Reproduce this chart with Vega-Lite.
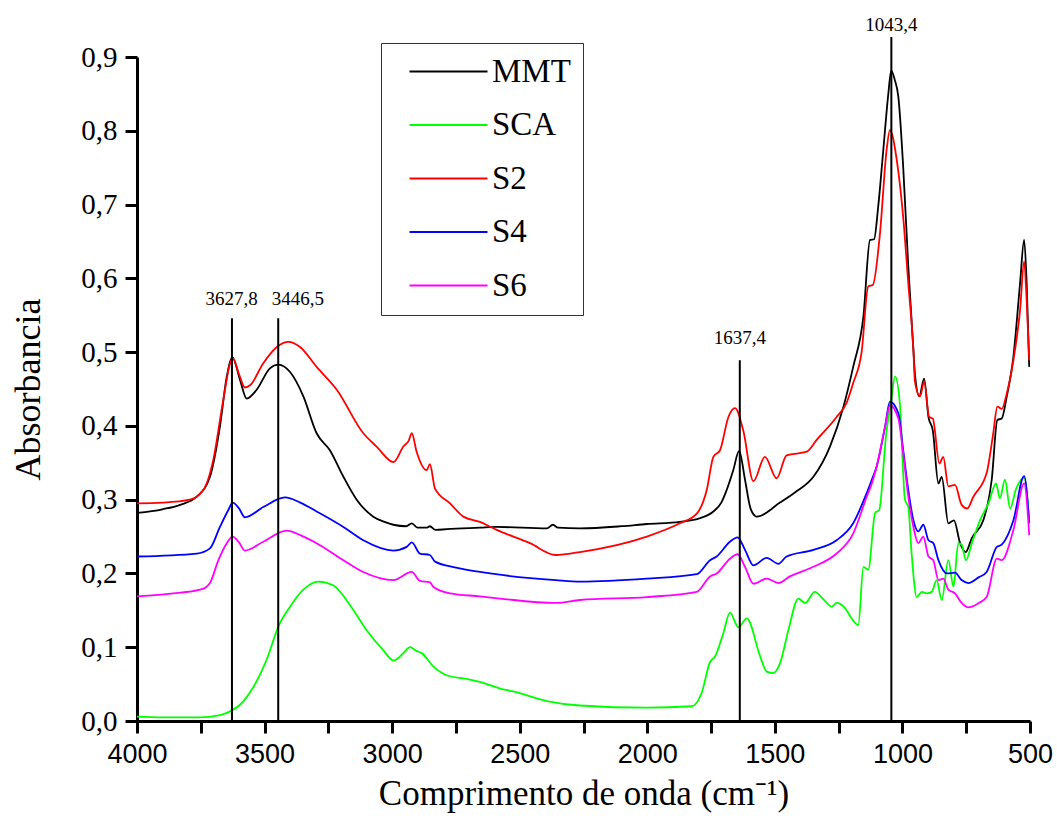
{
"$schema": "https://vega.github.io/schema/vega-lite/v6.json",
"width": 893, "height": 664,
"autosize": {"type": "none"},
"padding": {"left": 137, "top": 57, "right": 27, "bottom": 100},
"background": "white",
"config": {"view": {"stroke": null}, "font": "Liberation Serif"},
"datasets": {
"spectra": [
{"s":"MMT","x":4000,"y":0.282},{"s":"MMT","x":3900,"y":0.287},{"s":"MMT","x":3831,"y":0.293},{"s":"MMT","x":3766,"y":0.304},{"s":"MMT","x":3714,"y":0.331},{"s":"MMT","x":3675,"y":0.399},{"s":"MMT","x":3648,"y":0.467},{"s":"MMT","x":3626,"y":0.493},{"s":"MMT","x":3596,"y":0.462},{"s":"MMT","x":3570,"y":0.437},{"s":"MMT","x":3531,"y":0.449},{"s":"MMT","x":3479,"y":0.478},{"s":"MMT","x":3446,"y":0.483},{"s":"MMT","x":3400,"y":0.473},{"s":"MMT","x":3348,"y":0.44},{"s":"MMT","x":3296,"y":0.39},{"s":"MMT","x":3244,"y":0.367},{"s":"MMT","x":3191,"y":0.331},{"s":"MMT","x":3139,"y":0.3},{"s":"MMT","x":3074,"y":0.277},{"s":"MMT","x":3030,"y":0.27},{"s":"MMT","x":2995,"y":0.266},{"s":"MMT","x":2945,"y":0.264},{"s":"MMT","x":2923,"y":0.268},{"s":"MMT","x":2900,"y":0.262},{"s":"MMT","x":2865,"y":0.262},{"s":"MMT","x":2852,"y":0.264},{"s":"MMT","x":2830,"y":0.259},{"s":"MMT","x":2786,"y":0.26},{"s":"MMT","x":2656,"y":0.262},{"s":"MMT","x":2590,"y":0.263},{"s":"MMT","x":2394,"y":0.261},{"s":"MMT","x":2370,"y":0.266},{"s":"MMT","x":2350,"y":0.262},{"s":"MMT","x":2264,"y":0.261},{"s":"MMT","x":2100,"y":0.264},{"s":"MMT","x":2002,"y":0.267},{"s":"MMT","x":1872,"y":0.27},{"s":"MMT","x":1793,"y":0.275},{"s":"MMT","x":1741,"y":0.284},{"s":"MMT","x":1710,"y":0.296},{"s":"MMT","x":1689,"y":0.313},{"s":"MMT","x":1663,"y":0.34},{"s":"MMT","x":1640,"y":0.366},{"s":"MMT","x":1617,"y":0.327},{"s":"MMT","x":1597,"y":0.29},{"s":"MMT","x":1578,"y":0.278},{"s":"MMT","x":1571,"y":0.277},{"s":"MMT","x":1480,"y":0.296},{"s":"MMT","x":1420,"y":0.31},{"s":"MMT","x":1349,"y":0.331},{"s":"MMT","x":1284,"y":0.372},{"s":"MMT","x":1232,"y":0.425},{"s":"MMT","x":1193,"y":0.48},{"s":"MMT","x":1153,"y":0.548},{"s":"MMT","x":1127,"y":0.652},{"s":"MMT","x":1111,"y":0.653},{"s":"MMT","x":1095,"y":0.697},{"s":"MMT","x":1075,"y":0.774},{"s":"MMT","x":1055,"y":0.851},{"s":"MMT","x":1044,"y":0.882},{"s":"MMT","x":1030,"y":0.869},{"s":"MMT","x":1016,"y":0.846},{"s":"MMT","x":997,"y":0.751},{"s":"MMT","x":977,"y":0.616},{"s":"MMT","x":957,"y":0.503},{"s":"MMT","x":951,"y":0.471},{"s":"MMT","x":934,"y":0.44},{"s":"MMT","x":915,"y":0.464},{"s":"MMT","x":898,"y":0.412},{"s":"MMT","x":881,"y":0.394},{"s":"MMT","x":859,"y":0.322},{"s":"MMT","x":846,"y":0.331},{"s":"MMT","x":820,"y":0.268},{"s":"MMT","x":798,"y":0.272},{"s":"MMT","x":774,"y":0.241},{"s":"MMT","x":752,"y":0.229},{"s":"MMT","x":728,"y":0.248},{"s":"MMT","x":683,"y":0.272},{"s":"MMT","x":650,"y":0.327},{"s":"MMT","x":628,"y":0.408},{"s":"MMT","x":611,"y":0.41},{"s":"MMT","x":591,"y":0.44},{"s":"MMT","x":565,"y":0.494},{"s":"MMT","x":539,"y":0.593},{"s":"MMT","x":523,"y":0.652},{"s":"MMT","x":513,"y":0.593},{"s":"MMT","x":503,"y":0.48},
{"s":"SCA","x":4000,"y":0.006},{"s":"SCA","x":3900,"y":0.005},{"s":"SCA","x":3753,"y":0.005},{"s":"SCA","x":3675,"y":0.008},{"s":"SCA","x":3635,"y":0.013},{"s":"SCA","x":3596,"y":0.022},{"s":"SCA","x":3544,"y":0.046},{"s":"SCA","x":3492,"y":0.083},{"s":"SCA","x":3446,"y":0.128},{"s":"SCA","x":3400,"y":0.155},{"s":"SCA","x":3348,"y":0.178},{"s":"SCA","x":3289,"y":0.189},{"s":"SCA","x":3231,"y":0.184},{"s":"SCA","x":3165,"y":0.157},{"s":"SCA","x":3100,"y":0.123},{"s":"SCA","x":3035,"y":0.096},{"s":"SCA","x":2995,"y":0.082},{"s":"SCA","x":2956,"y":0.092},{"s":"SCA","x":2930,"y":0.1},{"s":"SCA","x":2905,"y":0.095},{"s":"SCA","x":2884,"y":0.092},{"s":"SCA","x":2839,"y":0.074},{"s":"SCA","x":2786,"y":0.062},{"s":"SCA","x":2708,"y":0.057},{"s":"SCA","x":2656,"y":0.053},{"s":"SCA","x":2577,"y":0.044},{"s":"SCA","x":2525,"y":0.04},{"s":"SCA","x":2394,"y":0.027},{"s":"SCA","x":2264,"y":0.021},{"s":"SCA","x":2002,"y":0.018},{"s":"SCA","x":1826,"y":0.02},{"s":"SCA","x":1787,"y":0.038},{"s":"SCA","x":1754,"y":0.08},{"s":"SCA","x":1735,"y":0.087},{"s":"SCA","x":1702,"y":0.119},{"s":"SCA","x":1676,"y":0.147},{"s":"SCA","x":1643,"y":0.127},{"s":"SCA","x":1610,"y":0.139},{"s":"SCA","x":1558,"y":0.088},{"s":"SCA","x":1532,"y":0.067},{"s":"SCA","x":1506,"y":0.065},{"s":"SCA","x":1480,"y":0.078},{"s":"SCA","x":1447,"y":0.123},{"s":"SCA","x":1408,"y":0.166},{"s":"SCA","x":1382,"y":0.16},{"s":"SCA","x":1343,"y":0.175},{"s":"SCA","x":1310,"y":0.165},{"s":"SCA","x":1277,"y":0.155},{"s":"SCA","x":1258,"y":0.16},{"s":"SCA","x":1225,"y":0.153},{"s":"SCA","x":1199,"y":0.139},{"s":"SCA","x":1173,"y":0.13},{"s":"SCA","x":1153,"y":0.209},{"s":"SCA","x":1134,"y":0.205},{"s":"SCA","x":1107,"y":0.282},{"s":"SCA","x":1091,"y":0.286},{"s":"SCA","x":1064,"y":0.388},{"s":"SCA","x":1044,"y":0.435},{"s":"SCA","x":1029,"y":0.467},{"s":"SCA","x":1010,"y":0.43},{"s":"SCA","x":990,"y":0.3},{"s":"SCA","x":977,"y":0.29},{"s":"SCA","x":964,"y":0.227},{"s":"SCA","x":944,"y":0.168},{"s":"SCA","x":924,"y":0.175},{"s":"SCA","x":905,"y":0.173},{"s":"SCA","x":885,"y":0.175},{"s":"SCA","x":866,"y":0.191},{"s":"SCA","x":846,"y":0.164},{"s":"SCA","x":820,"y":0.218},{"s":"SCA","x":800,"y":0.182},{"s":"SCA","x":781,"y":0.241},{"s":"SCA","x":768,"y":0.239},{"s":"SCA","x":751,"y":0.218},{"s":"SCA","x":728,"y":0.241},{"s":"SCA","x":696,"y":0.272},{"s":"SCA","x":663,"y":0.295},{"s":"SCA","x":633,"y":0.322},{"s":"SCA","x":618,"y":0.302},{"s":"SCA","x":598,"y":0.327},{"s":"SCA","x":578,"y":0.288},{"s":"SCA","x":555,"y":0.314},{"s":"SCA","x":523,"y":0.33},{"s":"SCA","x":503,"y":0.27},
{"s":"S2","x":4000,"y":0.295},{"s":"S2","x":3900,"y":0.296},{"s":"S2","x":3792,"y":0.3},{"s":"S2","x":3740,"y":0.313},{"s":"S2","x":3701,"y":0.354},{"s":"S2","x":3662,"y":0.435},{"s":"S2","x":3635,"y":0.485},{"s":"S2","x":3625,"y":0.492},{"s":"S2","x":3600,"y":0.47},{"s":"S2","x":3577,"y":0.452},{"s":"S2","x":3557,"y":0.455},{"s":"S2","x":3505,"y":0.485},{"s":"S2","x":3452,"y":0.507},{"s":"S2","x":3407,"y":0.514},{"s":"S2","x":3361,"y":0.507},{"s":"S2","x":3296,"y":0.48},{"s":"S2","x":3217,"y":0.449},{"s":"S2","x":3113,"y":0.39},{"s":"S2","x":3061,"y":0.372},{"s":"S2","x":2995,"y":0.351},{"s":"S2","x":2956,"y":0.372},{"s":"S2","x":2935,"y":0.38},{"s":"S2","x":2923,"y":0.39},{"s":"S2","x":2904,"y":0.365},{"s":"S2","x":2865,"y":0.34},{"s":"S2","x":2852,"y":0.348},{"s":"S2","x":2832,"y":0.315},{"s":"S2","x":2773,"y":0.295},{"s":"S2","x":2721,"y":0.277},{"s":"S2","x":2656,"y":0.27},{"s":"S2","x":2590,"y":0.259},{"s":"S2","x":2460,"y":0.241},{"s":"S2","x":2359,"y":0.225},{"s":"S2","x":2264,"y":0.229},{"s":"S2","x":2002,"y":0.25},{"s":"S2","x":1872,"y":0.268},{"s":"S2","x":1806,"y":0.281},{"s":"S2","x":1767,"y":0.313},{"s":"S2","x":1741,"y":0.358},{"s":"S2","x":1715,"y":0.367},{"s":"S2","x":1682,"y":0.412},{"s":"S2","x":1656,"y":0.424},{"s":"S2","x":1624,"y":0.394},{"s":"S2","x":1584,"y":0.325},{"s":"S2","x":1539,"y":0.358},{"s":"S2","x":1493,"y":0.329},{"s":"S2","x":1454,"y":0.36},{"s":"S2","x":1375,"y":0.365},{"s":"S2","x":1336,"y":0.381},{"s":"S2","x":1258,"y":0.412},{"s":"S2","x":1218,"y":0.432},{"s":"S2","x":1193,"y":0.458},{"s":"S2","x":1160,"y":0.5},{"s":"S2","x":1134,"y":0.589},{"s":"S2","x":1116,"y":0.591},{"s":"S2","x":1088,"y":0.661},{"s":"S2","x":1062,"y":0.774},{"s":"S2","x":1049,"y":0.801},{"s":"S2","x":1022,"y":0.76},{"s":"S2","x":997,"y":0.683},{"s":"S2","x":977,"y":0.593},{"s":"S2","x":957,"y":0.503},{"s":"S2","x":951,"y":0.46},{"s":"S2","x":931,"y":0.44},{"s":"S2","x":915,"y":0.46},{"s":"S2","x":895,"y":0.412},{"s":"S2","x":881,"y":0.41},{"s":"S2","x":855,"y":0.349},{"s":"S2","x":840,"y":0.358},{"s":"S2","x":820,"y":0.318},{"s":"S2","x":794,"y":0.32},{"s":"S2","x":768,"y":0.293},{"s":"S2","x":746,"y":0.288},{"s":"S2","x":722,"y":0.304},{"s":"S2","x":670,"y":0.336},{"s":"S2","x":644,"y":0.39},{"s":"S2","x":628,"y":0.426},{"s":"S2","x":611,"y":0.423},{"s":"S2","x":591,"y":0.444},{"s":"S2","x":565,"y":0.489},{"s":"S2","x":539,"y":0.557},{"s":"S2","x":523,"y":0.623},{"s":"S2","x":513,"y":0.57},{"s":"S2","x":503,"y":0.489},
{"s":"S4","x":4000,"y":0.223},{"s":"S4","x":3766,"y":0.227},{"s":"S4","x":3714,"y":0.234},{"s":"S4","x":3675,"y":0.263},{"s":"S4","x":3642,"y":0.286},{"s":"S4","x":3625,"y":0.296},{"s":"S4","x":3600,"y":0.288},{"s":"S4","x":3577,"y":0.276},{"s":"S4","x":3505,"y":0.29},{"s":"S4","x":3420,"y":0.303},{"s":"S4","x":3360,"y":0.296},{"s":"S4","x":3296,"y":0.284},{"s":"S4","x":3191,"y":0.263},{"s":"S4","x":3113,"y":0.245},{"s":"S4","x":2995,"y":0.231},{"s":"S4","x":2943,"y":0.236},{"s":"S4","x":2923,"y":0.242},{"s":"S4","x":2891,"y":0.227},{"s":"S4","x":2852,"y":0.225},{"s":"S4","x":2832,"y":0.216},{"s":"S4","x":2750,"y":0.208},{"s":"S4","x":2656,"y":0.202},{"s":"S4","x":2359,"y":0.191},{"s":"S4","x":2264,"y":0.189},{"s":"S4","x":2002,"y":0.193},{"s":"S4","x":1806,"y":0.199},{"s":"S4","x":1754,"y":0.218},{"s":"S4","x":1728,"y":0.223},{"s":"S4","x":1676,"y":0.243},{"s":"S4","x":1646,"y":0.249},{"s":"S4","x":1617,"y":0.232},{"s":"S4","x":1584,"y":0.211},{"s":"S4","x":1532,"y":0.221},{"s":"S4","x":1486,"y":0.213},{"s":"S4","x":1454,"y":0.223},{"s":"S4","x":1349,"y":0.232},{"s":"S4","x":1258,"y":0.245},{"s":"S4","x":1193,"y":0.268},{"s":"S4","x":1140,"y":0.309},{"s":"S4","x":1120,"y":0.327},{"s":"S4","x":1101,"y":0.345},{"s":"S4","x":1068,"y":0.399},{"s":"S4","x":1049,"y":0.433},{"s":"S4","x":1016,"y":0.417},{"s":"S4","x":997,"y":0.367},{"s":"S4","x":977,"y":0.313},{"s":"S4","x":957,"y":0.272},{"s":"S4","x":938,"y":0.257},{"s":"S4","x":918,"y":0.266},{"s":"S4","x":898,"y":0.245},{"s":"S4","x":879,"y":0.241},{"s":"S4","x":859,"y":0.218},{"s":"S4","x":826,"y":0.2},{"s":"S4","x":794,"y":0.201},{"s":"S4","x":768,"y":0.191},{"s":"S4","x":742,"y":0.187},{"s":"S4","x":700,"y":0.195},{"s":"S4","x":670,"y":0.202},{"s":"S4","x":630,"y":0.236},{"s":"S4","x":611,"y":0.239},{"s":"S4","x":565,"y":0.272},{"s":"S4","x":523,"y":0.332},{"s":"S4","x":503,"y":0.268},
{"s":"S6","x":4000,"y":0.169},{"s":"S6","x":3858,"y":0.173},{"s":"S6","x":3753,"y":0.178},{"s":"S6","x":3727,"y":0.182},{"s":"S6","x":3714,"y":0.187},{"s":"S6","x":3681,"y":0.218},{"s":"S6","x":3648,"y":0.241},{"s":"S6","x":3625,"y":0.25},{"s":"S6","x":3600,"y":0.242},{"s":"S6","x":3577,"y":0.231},{"s":"S6","x":3505,"y":0.243},{"s":"S6","x":3413,"y":0.258},{"s":"S6","x":3360,"y":0.252},{"s":"S6","x":3296,"y":0.241},{"s":"S6","x":3191,"y":0.218},{"s":"S6","x":3113,"y":0.202},{"s":"S6","x":2995,"y":0.191},{"s":"S6","x":2923,"y":0.202},{"s":"S6","x":2891,"y":0.19},{"s":"S6","x":2852,"y":0.188},{"s":"S6","x":2839,"y":0.182},{"s":"S6","x":2773,"y":0.173},{"s":"S6","x":2656,"y":0.169},{"s":"S6","x":2577,"y":0.166},{"s":"S6","x":2359,"y":0.16},{"s":"S6","x":2264,"y":0.164},{"s":"S6","x":2002,"y":0.168},{"s":"S6","x":1806,"y":0.175},{"s":"S6","x":1754,"y":0.196},{"s":"S6","x":1728,"y":0.2},{"s":"S6","x":1676,"y":0.22},{"s":"S6","x":1646,"y":0.226},{"s":"S6","x":1617,"y":0.209},{"s":"S6","x":1584,"y":0.186},{"s":"S6","x":1532,"y":0.193},{"s":"S6","x":1486,"y":0.187},{"s":"S6","x":1441,"y":0.196},{"s":"S6","x":1349,"y":0.209},{"s":"S6","x":1258,"y":0.227},{"s":"S6","x":1193,"y":0.254},{"s":"S6","x":1140,"y":0.304},{"s":"S6","x":1120,"y":0.322},{"s":"S6","x":1101,"y":0.345},{"s":"S6","x":1068,"y":0.399},{"s":"S6","x":1049,"y":0.428},{"s":"S6","x":1016,"y":0.41},{"s":"S6","x":997,"y":0.363},{"s":"S6","x":977,"y":0.304},{"s":"S6","x":957,"y":0.263},{"s":"S6","x":938,"y":0.241},{"s":"S6","x":918,"y":0.25},{"s":"S6","x":898,"y":0.223},{"s":"S6","x":879,"y":0.218},{"s":"S6","x":859,"y":0.191},{"s":"S6","x":840,"y":0.193},{"s":"S6","x":820,"y":0.178},{"s":"S6","x":794,"y":0.173},{"s":"S6","x":768,"y":0.16},{"s":"S6","x":742,"y":0.154},{"s":"S6","x":700,"y":0.16},{"s":"S6","x":670,"y":0.168},{"s":"S6","x":630,"y":0.22},{"s":"S6","x":611,"y":0.218},{"s":"S6","x":565,"y":0.259},{"s":"S6","x":523,"y":0.322},{"s":"S6","x":503,"y":0.252}
],
"peaks": [
{"wn":3627.8,"base":0,"top":0.546,"lx":3629,"ly":0.572,"label":"3627,8"},
{"wn":3446.5,"base":0,"top":0.546,"lx":3369,"ly":0.572,"label":"3446,5"},
{"wn":1637.4,"base":0,"top":0.489,"lx":1637.4,"ly":0.519,"label":"1637,4"},
{"wn":1043.4,"base":0,"top":0.927,"lx":1043.4,"ly":0.943,"label":"1043,4"}
]
},
"layer": [
{
"data": {"name": "spectra"},
"mark": {"type": "line", "strokeWidth": 1.8, "interpolate": "monotone"},
"encoding": {
"x": {"field": "x", "type": "quantitative",
 "scale": {"domain": [500, 4000], "reverse": true, "nice": false, "zero": false},
 "axis": {"title": "Comprimento de onda (cm⁻¹)",
  "values": [4000,3750,3500,3250,3000,2750,2500,2250,2000,1750,1500,1250,1000,750,500],
  "format": "d",
  "labelExpr": "datum.value % 500 === 0 ? datum.label : ''",
  "labelFont": "Liberation Sans", "labelFontSize": 27, "labelColor": "black", "labelPadding": 8,
  "labelFlush": false, "labelOverlap": false,
  "tickSize": 12, "tickWidth": 3, "tickColor": "black",
  "domainColor": "black", "domainWidth": 3, "grid": false,
  "titleFont": "Liberation Serif", "titleFontSize": 35, "titleFontWeight": "normal", "titleColor": "black", "titlePadding": 9,
  "encode": {"ticks": {"update": {"y2": {"signal": "datum.value % 500 === 0 ? 12 : 6"}}}}
 }},
"y": {"field": "y", "type": "quantitative",
 "scale": {"domain": [0, 0.9], "nice": false, "zero": false},
 "axis": {"title": "Absorbancia",
  "values": [0,0.05,0.1,0.15,0.2,0.25,0.3,0.35,0.4,0.45,0.5,0.55,0.6,0.65,0.7,0.75,0.8,0.85,0.9],
  "labelExpr": "round(datum.value*100) % 10 === 0 ? replace(format(datum.value, '.1f'), '.', ',') : ''",
  "labelFont": "Liberation Serif", "labelFontSize": 29, "labelColor": "black", "labelPadding": 8,
  "labelFlush": false, "labelOverlap": false,
  "tickSize": 12, "tickWidth": 3, "tickColor": "black",
  "domainColor": "black", "domainWidth": 3, "grid": false,
  "titleFont": "Liberation Serif", "titleFontSize": 36, "titleFontWeight": "normal", "titleColor": "black", "titlePadding": 33,
  "encode": {"ticks": {"update": {"x2": {"signal": "round(datum.value*100) % 10 === 0 ? -12 : -6"}}}}
 }},
"color": {"field": "s", "type": "nominal",
 "scale": {"domain": ["MMT","SCA","S2","S4","S6"], "range": ["#000000","#00ff00","#ff0000","#0000ff","#ff00ff"]},
 "legend": {"orient": "none", "legendX": 244, "legendY": -14, "title": null,
  "symbolType": "M0,0H6", "symbolSize": 676, "symbolStrokeWidth": 2,
  "labelFont": "Liberation Serif", "labelFontSize": 33, "labelColor": "black", "labelOffset": 66,
  "rowPadding": 19.5, "padding": 12, "strokeColor": "#333333", "fillColor": "white"}
}
}
},
{
"data": {"name": "peaks"},
"mark": {"type": "rule", "color": "black", "strokeWidth": 2},
"encoding": {
"x": {"field": "wn", "type": "quantitative"},
"y": {"field": "base", "type": "quantitative"},
"y2": {"field": "top"}
}
},
{
"data": {"name": "peaks"},
"mark": {"type": "text", "font": "Liberation Serif", "fontSize": 19, "baseline": "middle", "align": "center", "color": "black"},
"encoding": {
"x": {"field": "lx", "type": "quantitative"},
"y": {"field": "ly", "type": "quantitative"},
"text": {"field": "label"}
}
}
]
}
